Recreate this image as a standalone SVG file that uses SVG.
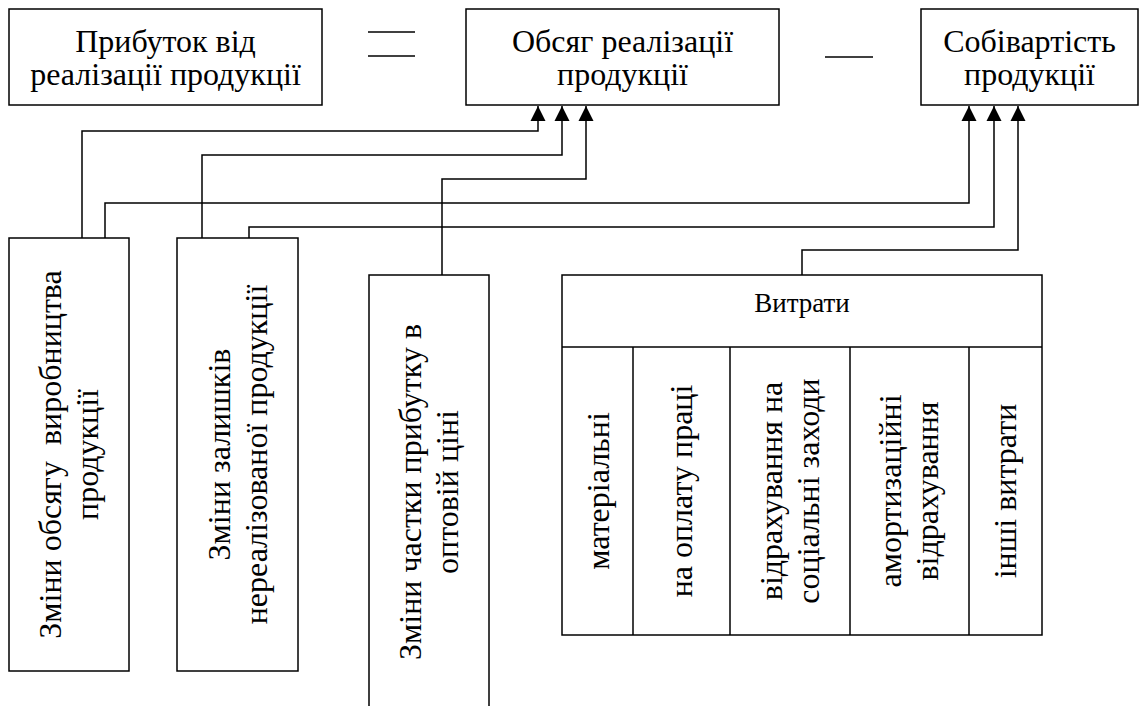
<svg xmlns="http://www.w3.org/2000/svg" width="1139" height="706" viewBox="0 0 1139 706">
<style>
.box{fill:#fff;stroke:#000;stroke-width:1.5}
.ln{fill:none;stroke:#000;stroke-width:1.5}
text{font-family:'Liberation Serif','Times New Roman',serif;fill:#000;text-anchor:middle}
.t{font-size:32px}
.v{font-size:32px}
.s{font-size:27px}
</style>
<defs>
<marker id="arr" markerUnits="userSpaceOnUse" markerWidth="16" markerHeight="16" viewBox="0 0 16 16" refX="15" refY="8" orient="auto">
<path d="M0,0.5 L15,8 L0,15.5 Z" fill="#000"/>
</marker>
</defs>
<rect width="1139" height="706" fill="#fff"/>

<g id="profit">
<rect class="box" x="9" y="9" width="313" height="96"/>
<text class="t" x="165.5" y="52">Прибуток від</text>
<text class="t" x="165.5" y="85">реалізації продукції</text>
</g>
<g id="equals">
<line class="ln" x1="368" y1="32" x2="415" y2="32"/>
<line class="ln" x1="368" y1="56" x2="415" y2="56"/>
</g>
<g id="volume">
<rect class="box" x="466" y="9" width="313" height="96"/>
<text class="t" x="622.5" y="52">Обсяг реалізації</text>
<text class="t" x="622.5" y="85">продукції</text>
</g>
<g id="minus">
<line class="ln" x1="825" y1="57" x2="873" y2="57"/>
</g>
<g id="cost">
<rect class="box" x="921" y="9" width="217" height="96"/>
<text class="t" x="1029.5" y="52">Собівартість</text>
<text class="t" x="1029.5" y="85">продукції</text>
</g>

<g id="connectors">
<polyline class="ln" points="82,238 82,131 538,131 538,106" marker-end="url(#arr)"/>
<polyline class="ln" points="202,238 202,155 562,155 562,106" marker-end="url(#arr)"/>
<polyline class="ln" points="442,275 442,179 586,179 586,106" marker-end="url(#arr)"/>
<polyline class="ln" points="105,238 105,203 969,203 969,106" marker-end="url(#arr)"/>
<polyline class="ln" points="249,238 249,227 994,227 994,106" marker-end="url(#arr)"/>
<polyline class="ln" points="802,275 802,250 1018,250 1018,106" marker-end="url(#arr)"/>
</g>

<g id="change-volume">
<rect class="box" x="9" y="238" width="120" height="433"/>
<text class="v" transform="translate(61,454.5) rotate(-90)" xml:space="preserve">Зміни обсягу  виробництва</text>
<text class="v" transform="translate(98,454.5) rotate(-90)">продукції</text>
</g>
<g id="change-stock">
<rect class="box" x="177" y="238" width="121" height="433"/>
<text class="v" transform="translate(229.5,454.5) rotate(-90)">Зміни залишків</text>
<text class="v" transform="translate(266.5,454.5) rotate(-90)">нереалізованої продукції</text>
</g>
<g id="change-share">
<rect class="box" x="369" y="275" width="120" height="440"/>
<text class="v" transform="translate(421,492) rotate(-90)">Зміни частки прибутку в</text>
<text class="v" transform="translate(458,492) rotate(-90)">оптовій ціні</text>
</g>

<g id="costs">
<rect class="box" x="562" y="275" width="480" height="360"/>
<line class="ln" x1="562" y1="347" x2="1042" y2="347"/>
<text class="s" x="802" y="312">Витрати</text>
<line class="ln" x1="633" y1="347" x2="633" y2="635"/>
<line class="ln" x1="730" y1="347" x2="730" y2="635"/>
<line class="ln" x1="850" y1="347" x2="850" y2="635"/>
<line class="ln" x1="969" y1="347" x2="969" y2="635"/>
<text class="v" transform="translate(609,491) rotate(-90)">матеріальні</text>
<text class="v" transform="translate(692,491) rotate(-90)">на оплату праці</text>
<text class="v" transform="translate(782,491) rotate(-90)">відрахування на</text>
<text class="v" transform="translate(819,491) rotate(-90)">соціальні заходи</text>
<text class="v" transform="translate(901,491) rotate(-90)">амортизаційні</text>
<text class="v" transform="translate(938,491) rotate(-90)">відрахування</text>
<text class="v" transform="translate(1016,491) rotate(-90)">інші витрати</text>
</g>
</svg>
